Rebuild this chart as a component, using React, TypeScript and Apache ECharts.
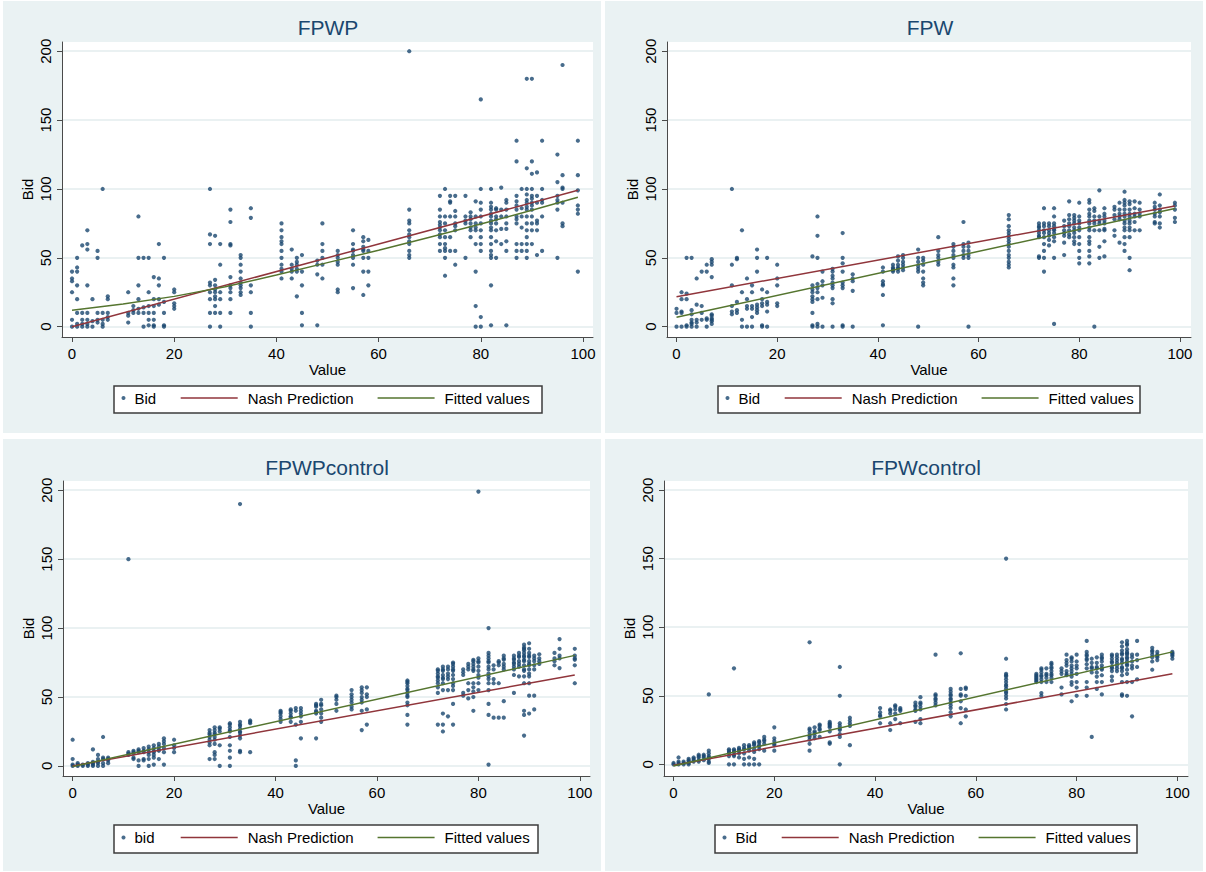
import React, { useEffect, useRef } from "react";
import * as echarts from "echarts";

const FONT = "'Liberation Sans', Arial, Helvetica, sans-serif";
const NAVY = "#1A476F";
const MAROON = "#90353B";
const FOREST = "#55752F";
const PANEL_BG = "#EAF2F3";

const xTicks = [0, 20, 40, 60, 80, 100];
const yTicks = [0, 50, 100, 150, 200];
const panelTitles = ["FPWP", "FPW", "FPWPcontrol", "FPWcontrol"];
const scatterNames = ["Bid", "Bid", "bid", "Bid"];
const nashName = "Nash Prediction";
const fitName = "Fitted values";
const xTitle = "Value";
const yTitle = "Bid";

// Bid values per Value column
const fpwpBids: [number, number[]][] = [
  [0, [40, 35, 33, 25, 5, 0]], [1, [50, 43, 40, 30, 20, 10, 2, 0]], [2, [59, 10, 5, 2, 0]],
  [3, [70, 60, 56, 30, 10, 5, 2, 0]], [4, [20, 4, 0]], [5, [55, 50, 10, 5, 3]], [6, [100, 10, 5, 2, 0]],
  [7, [22, 20, 10, 7, 5]], [11, [25, 10, 8, 3]], [12, [15, 12, 10]], [13, [80, 50, 30, 20, 13, 10]],
  [14, [50, 14, 10, 0]], [15, [50, 25, 15, 10, 5, 1]], [16, [36, 20, 15, 10, 5, 1, 0]],
  [17, [60, 35, 30, 20, 16]], [18, [50, 18, 10, 1, 0]], [20, [27, 25, 17, 15, 13]],
  [27, [100, 67, 60, 32, 30, 25, 20, 10, 0]], [28, [66, 34, 30, 27, 25, 22, 20, 15, 10]],
  [29, [60, 45, 25, 20, 10, 0]], [31, [85, 76, 60, 59, 36, 30, 28, 25, 20, 10]],
  [33, [52, 50, 45, 40, 35, 32, 30, 28, 25, 23]], [35, [86, 79, 30, 25, 10, 0]],
  [41, [75, 70, 65, 62, 60, 55, 50, 45, 42, 40, 35]], [43, [56, 45, 42, 40, 35]],
  [44, [50, 47, 45, 42, 40, 22]], [45, [52, 40, 30, 10, 1]], [48, [48, 45, 38, 1]],
  [49, [75, 60, 55, 50, 45, 35]], [52, [55, 52, 50, 47, 45, 27, 25]],
  [55, [70, 60, 56, 55, 52, 50, 45, 28]], [57, [65, 62, 58, 56, 55, 50, 40, 23]],
  [58, [63, 55, 50, 40, 30]], [66, [200, 85, 77, 75, 70, 67, 65, 62, 60, 55, 52, 50]],
  [72, [95, 85, 80, 76, 74, 72, 70, 67, 65, 60, 55]], [73, [100, 80, 75, 70, 65, 60, 57, 55, 50, 37]],
  [74, [95, 91, 90, 80, 65, 55]], [75, [95, 84, 80, 75, 73, 70, 55, 45]], [77, [95, 80, 77, 75, 50]],
  [78, [83, 80, 78, 75, 72, 70, 65]], [79, [91, 80, 75, 72, 70, 60, 40, 15, 0]],
  [80, [165, 100, 90, 85, 80, 75, 70, 65, 60, 55, 7, 0]],
  [82, [100, 90, 87, 85, 82, 80, 77, 75, 72, 70, 65, 60, 55, 52, 50, 30, 1]],
  [83, [86, 85, 80, 78, 75, 70, 62, 50]], [84, [101, 85, 80, 71, 60]],
  [85, [92, 90, 85, 80, 75, 71, 62, 55, 1]], [87, [135, 120, 95, 91, 88, 85, 80, 78, 75, 60, 55, 50]],
  [88, [100, 86, 80, 72, 60, 55]], [89, [180, 115, 100, 96, 92, 90, 87, 85, 80, 75, 70, 65, 60, 55, 50]],
  [90, [180, 120, 111, 100, 95, 93, 90, 88, 85, 80, 75, 70, 60]], [91, [112, 95, 90, 77, 75, 70, 52]],
  [92, [135, 100, 92, 90, 80, 55]], [95, [125, 105, 95, 92, 90, 85, 50]],
  [96, [190, 110, 101, 100, 90, 75, 73]], [99, [135, 110, 99, 88, 85, 82, 40]],
];

const fpwBids: [number, number[]][] = [
  [0, [13, 10, 0]], [1, [25, 20, 11, 10, 0]], [2, [50, 24, 20, 1, 0]], [3, [50, 12, 9, 5, 3, 2, 0]],
  [4, [35, 16, 5, 3, 0]], [5, [40, 15, 10, 5]], [6, [45, 40, 6, 5, 0]], [7, [49, 47, 45, 36, 9, 8, 6, 5, 4, 2]],
  [11, [100, 45, 30, 15, 11, 9]], [12, [50, 49, 18, 12, 10]], [13, [70, 25, 5, 0]], [14, [35, 20, 15, 13, 0]],
  [15, [30, 25, 15, 13, 7, 0]], [16, [56, 50, 40, 16, 14, 12, 10]], [17, [27, 20, 17, 15, 1, 0]],
  [18, [50, 25, 18, 16, 11, 0]], [20, [45, 35, 30, 17, 15]], [27, [51, 30, 27, 25, 22, 20, 18, 10, 1, 0]],
  [28, [80, 66, 50, 31, 28, 25, 20, 2, 0]], [29, [40, 33, 30, 21, 0]],
  [31, [42, 40, 37, 35, 32, 30, 28, 20, 17, 0]], [33, [68, 50, 46, 40, 32, 30, 28, 1, 0]],
  [35, [38, 35, 33, 26, 0]], [41, [43, 40, 33, 31, 30, 23, 1]], [43, [45, 43, 42, 41, 40]],
  [44, [51, 48, 45, 43, 42, 40]], [45, [52, 50, 47, 45, 43, 41]], [48, [56, 50, 47, 44, 42, 40, 0]],
  [49, [50, 48, 45, 40, 35, 32, 30]], [52, [65, 55, 52, 50, 47, 45]],
  [55, [60, 58, 55, 52, 50, 45, 43, 35, 30]], [57, [76, 60, 58, 55, 52, 50]], [58, [61, 58, 55, 52, 50, 0]],
  [66, [81, 78, 73, 70, 68, 66, 64, 62, 60, 58, 55, 52, 50, 47, 45, 43]],
  [72, [75, 73, 72, 70, 68, 66, 65, 51, 50]], [73, [86, 75, 73, 70, 68, 65, 60, 55, 50, 40]],
  [74, [75, 73, 70, 68, 66, 63, 59]], [75, [86, 80, 75, 73, 71, 70, 68, 65, 62, 50, 2]],
  [77, [77, 73, 70, 68, 66, 61, 52]], [78, [91, 81, 78, 75, 73, 70, 67, 65]],
  [79, [81, 79, 77, 75, 72, 70, 68, 65, 62, 60]], [80, [90, 80, 77, 75, 72, 70, 65, 60, 55, 50, 46]],
  [82, [92, 90, 85, 82, 80, 77, 75, 72, 70, 65, 62, 60, 55, 51, 46]], [83, [86, 84, 80, 77, 75, 70, 0]],
  [84, [99, 80, 77, 75, 70, 58, 50]], [85, [86, 82, 80, 77, 75, 71, 70, 62, 51]],
  [87, [87, 85, 81, 78, 70, 66]], [88, [90, 85, 82, 80, 78, 61]],
  [89, [98, 92, 90, 88, 85, 82, 80, 77, 75, 72, 70, 65, 60, 55]],
  [90, [91, 89, 85, 82, 80, 77, 75, 72, 70, 65, 50, 41]], [91, [91, 86, 82, 80, 76, 70]],
  [92, [90, 85, 82, 80, 70]], [95, [90, 87, 85, 82, 80, 76, 75]], [96, [96, 88, 85, 83, 80, 75, 72]],
  [99, [90, 88, 85, 79, 76]],
];

const fpwpControlBids: [number, number[]][] = [
  [0, [19, 5, 1, 0]], [1, [2, 1, 0]], [2, [1, 0]], [3, [2, 1, 0]], [4, [12, 3, 2, 1, 0]], [5, [8, 5, 3, 2, 0]],
  [6, [21, 6, 5, 2, 0]], [7, [6, 5, 4, 2]], [11, [150, 10, 9, 8]], [12, [11, 10, 9, 6, 5]],
  [13, [12, 11, 10, 4, 0]], [14, [13, 11, 10, 5, 4]], [15, [14, 12, 10, 8, 5, 0]],
  [16, [15, 13, 11, 10, 8, 6, 1]], [17, [16, 14, 12, 11, 5]], [18, [20, 18, 16, 13, 10, 1]],
  [20, [19, 15, 13, 10]], [27, [26, 24, 23, 21, 19, 17, 15, 5]], [28, [28, 26, 24, 23, 21, 19, 16, 10, 8, 5]],
  [29, [28, 27, 25, 15, 0]], [31, [31, 30, 28, 26, 25, 21, 15, 11, 6, 0]],
  [33, [190, 32, 30, 29, 27, 25, 24, 22, 20, 11, 10]], [35, [33, 32, 31, 10]],
  [41, [40, 39, 38, 36, 34, 32]], [43, [41, 40, 38, 36, 35, 32]], [44, [42, 40, 30, 4, 0]],
  [45, [42, 40, 38, 36, 32, 20]], [48, [45, 44, 43, 40, 39, 38, 20]], [49, [48, 45, 44, 41, 38, 35, 32]],
  [52, [51, 50, 48, 45, 40]], [55, [55, 52, 50, 48, 46, 43, 41]], [57, [57, 55, 53, 50, 48, 46, 40, 26]],
  [58, [57, 52, 50, 41, 30]], [66, [62, 61, 60, 58, 56, 55, 53, 51, 50, 46, 44, 37, 30]],
  [72, [70, 69, 67, 65, 64, 62, 60, 57, 53, 30]], [73, [72, 70, 69, 66, 64, 63, 60, 55, 38, 30, 25]],
  [74, [72, 70, 67, 65, 63, 55, 36]], [75, [75, 74, 72, 70, 69, 66, 63, 60, 58, 55, 45, 30]],
  [77, [70, 68, 66, 53, 51]], [78, [74, 72, 70, 60, 55, 49]], [79, [77, 76, 74, 72, 70, 69, 60, 57, 54, 50, 40]],
  [80, [199, 78, 76, 75, 72, 69, 66, 64, 60, 55]],
  [82, [100, 82, 80, 78, 76, 75, 72, 70, 67, 65, 63, 60, 55, 45, 37, 1]], [83, [73, 70, 63, 60, 35]],
  [84, [76, 75, 73, 60, 35]], [85, [80, 78, 77, 74, 72, 70, 47, 35]], [87, [80, 78, 77, 75, 74, 72, 70, 66, 53]],
  [88, [82, 80, 79, 76, 74, 72, 65]], [89, [88, 86, 85, 84, 82, 80, 79, 77, 76, 73, 70, 69, 65, 60, 40, 37, 22]],
  [90, [89, 85, 82, 80, 79, 76, 74, 73, 70, 67, 65, 60, 51, 38]], [91, [80, 78, 76, 73, 70, 51, 41]],
  [92, [81, 78, 76, 74]], [95, [82, 78, 76, 73]], [96, [92, 85, 80, 78, 71]], [99, [85, 80, 78, 77, 73, 60]],
];

const fpwControlBids: [number, number[]][] = [
  [0, [1, 0]], [1, [5, 2, 1, 0]], [2, [2, 1, 0]], [3, [4, 3, 2, 1, 0]], [4, [5, 4, 3, 2]], [5, [7, 6, 5, 3, 2]],
  [6, [7, 6, 5, 3]], [7, [51, 10, 8, 6, 5, 4, 2, 1]], [11, [11, 10, 9, 8, 6, 0]], [12, [70, 11, 10, 9, 7, 6, 0]],
  [13, [12, 11, 10, 8, 5]], [14, [14, 12, 11, 8, 4, 0]], [15, [14, 13, 12, 10, 5, 0]],
  [16, [16, 15, 14, 11, 9, 4, 0]], [17, [17, 16, 14, 13, 11, 0]], [18, [20, 18, 17, 15, 10]],
  [20, [27, 19, 17, 15, 14, 10]], [27, [89, 26, 25, 23, 21, 20, 18, 15, 10]], [28, [27, 24, 23, 21, 19]],
  [29, [29, 28, 26, 25, 20]], [31, [31, 30, 29, 28, 27, 24, 16, 15]], [33, [71, 50, 30, 28, 26, 25, 22, 20, 0]],
  [35, [34, 32, 30, 28, 14]], [41, [41, 38, 36, 35, 30]], [43, [40, 39, 37, 30, 25]], [44, [43, 42, 40, 37, 33]],
  [45, [41, 40, 39, 30]], [48, [45, 43, 42, 40, 39, 31]], [49, [49, 45, 44, 42, 40, 33, 30]],
  [52, [80, 51, 50, 48, 47, 45, 43]], [55, [55, 53, 51, 50, 48, 47, 45, 43, 41, 38, 35]],
  [57, [81, 55, 51, 50, 46, 41, 30]], [58, [56, 55, 50, 40, 35]],
  [66, [150, 77, 66, 65, 64, 62, 60, 58, 57, 55, 53, 52, 50, 48, 44, 40]], [72, [66, 65, 64, 63, 62, 61, 60]],
  [73, [70, 69, 67, 65, 64, 62, 60, 52, 50]], [74, [70, 66, 65, 63, 60]], [75, [74, 73, 71, 70, 68, 66, 65, 63, 60]],
  [77, [70, 68, 66, 56, 51]], [78, [80, 76, 74, 72, 68, 66, 65]], [79, [78, 77, 75, 72, 70, 68, 66, 64, 60, 58, 46]],
  [80, [80, 75, 72, 70, 66, 60, 56, 50]], [82, [90, 82, 80, 79, 77, 76, 73, 70, 60, 56, 50]],
  [83, [77, 74, 71, 70, 67, 20]], [84, [78, 74, 71, 70, 67, 64, 60, 55]], [85, [80, 78, 77, 75, 72, 70, 69, 65, 60, 51]],
  [87, [80, 79, 77, 75, 74, 71, 70, 68, 64, 61]], [88, [80, 78, 76, 74, 72, 70, 68]],
  [89, [89, 86, 83, 81, 80, 77, 76, 74, 71, 70, 68, 65, 60, 51, 50]],
  [90, [90, 88, 87, 84, 82, 81, 80, 78, 77, 75, 73, 72, 69, 66, 60, 50]], [91, [80, 78, 75, 72, 70, 60, 35]],
  [92, [90, 80, 76, 71, 62]], [95, [85, 83, 82, 80, 78, 75, 69]], [96, [82, 80, 79, 78, 76]], [99, [82, 81, 80, 79, 77]],
];

// Nash prediction and fitted-value lines
const nashFPWP = [[0, 0], [99, 99]];
const fitFPWP = [[0, 12], [10, 16.5], [20, 22], [30, 29], [40, 37.5], [50, 46.5], [60, 55.5], [70, 65], [80, 74.5], [90, 84.5], [99, 94]];
const nashFPW = [[0, 21.7], [99, 87.6]];
const fitFPW = [[0, 6.8], [99, 85.8]];
const nashFPWPcontrol = [[0, 0], [99, 66]];
const fitFPWPcontrol = [[0, -0.5], [99, 80.2]];
const nashFPWcontrol = [[0, -0.7], [99, 66]];
const fitFPWcontrol = [[0, -1.2], [99, 82]];

const bidSets = [fpwpBids, fpwBids, fpwpControlBids, fpwControlBids];
const nashSets = [nashFPWP, nashFPW, nashFPWPcontrol, nashFPWcontrol];
const fitSets = [fitFPWP, fitFPW, fitFPWPcontrol, fitFPWcontrol];

// layout of the four panels (pixels)
const layout = [
  { bg: [3, 1, 598, 432], grid: [62, 42, 531, 295], xr: [-1.96, 101.96], yr: [-7.5, 206.7], tx: 328, ty: 17, lg: [114, 386, 428, 27] },
  { bg: [605, 1, 598, 432], grid: [667, 42, 524, 295], xr: [-1.89, 102.2], yr: [-7.5, 206.7], tx: 930, ty: 17, lg: [718, 386, 422, 27] },
  { bg: [3, 439, 598, 432], grid: [63, 481, 527, 295], xr: [-1.9, 102], yr: [-7.3, 206.7], tx: 327, ty: 457, lg: [114, 825, 424, 28] },
  { bg: [605, 439, 598, 432], grid: [664, 481, 524, 295], xr: [-1.89, 102.1], yr: [-8.5, 206.6], tx: 926, ty: 457, lg: [715, 825, 422, 28] },
];

function expand(cols: [number, number[]][]) {
  const out: number[][] = [];
  cols.forEach(([x, ys]) => ys.forEach((y) => out.push([x, y])));
  return out;
}

export default function App() {
  const ref = useRef<HTMLDivElement>(null);
  useEffect(() => {
    if (!ref.current) return;
    const chart = echarts.init(ref.current, undefined, { renderer: "svg" });
    const textStyle = { fontFamily: FONT, fontSize: 15, color: "#000" };
    const axisLineStyle = { color: "#4a4a4a", width: 1 };

    const graphic: any[] = [];
    layout.forEach((p) => {
      graphic.push({ type: "rect", z: -100, silent: true, shape: { x: p.bg[0], y: p.bg[1], width: p.bg[2], height: p.bg[3] }, style: { fill: PANEL_BG } });
      graphic.push({ type: "rect", z: 1, silent: true, shape: { x: p.lg[0], y: p.lg[1], width: p.lg[2], height: p.lg[3] }, style: { fill: "#fff", stroke: "#3c3c3c", lineWidth: 1.5 } });
    });

    const series: any[] = [];
    layout.forEach((p, i) => {
      series.push({
        type: "scatter", name: scatterNames[i], xAxisIndex: i, yAxisIndex: i,
        data: expand(bidSets[i]), symbolSize: 4.2, itemStyle: { color: NAVY }, z: 3,
      });
      series.push({
        type: "line", name: nashName, xAxisIndex: i, yAxisIndex: i, data: nashSets[i],
        symbol: "none", showSymbol: false, lineStyle: { color: MAROON, width: 1.5 }, itemStyle: { color: MAROON }, z: 4,
      });
      series.push({
        type: "line", name: fitName, xAxisIndex: i, yAxisIndex: i, data: fitSets[i],
        symbol: "none", showSymbol: false, lineStyle: { color: FOREST, width: 1.5 }, itemStyle: { color: FOREST }, z: 5,
      });
    });

    const legends: any[] = [];
    layout.forEach((p, i) => {
      const cy = p.lg[1] + p.lg[3] / 2;
      legends.push({
        data: [{ name: scatterNames[i], icon: "circle" }], left: p.lg[0] + 7.5, top: cy - 9, itemWidth: 4, itemHeight: 4,
        padding: 0, selectedMode: false, textStyle: { ...textStyle, padding: [0, 0, 0, 4] }, z: 4,
      });
      legends.push({
        data: [
          { name: nashName, icon: "rect", itemStyle: { color: MAROON } },
          { name: fitName, icon: "rect", itemStyle: { color: FOREST } },
        ],
        left: p.lg[0] + 66.7, top: cy - 9, itemWidth: 57, itemHeight: 1.5, itemGap: 24, symbolKeepAspect: false,
        padding: 0, selectedMode: false, textStyle: { ...textStyle, padding: [0, 0, 0, 5] }, z: 4,
      });
    });

    chart.setOption({
      animation: false,
      backgroundColor: "#fff",
      textStyle: { fontFamily: FONT },
      graphic,
      title: layout.map((p, i) => ({
        text: panelTitles[i], left: p.tx, top: p.ty, textAlign: "center", padding: 0,
        textStyle: { fontFamily: FONT, fontSize: 21, fontWeight: "normal", color: NAVY },
      })),
      legend: legends,
      grid: layout.map((p) => ({
        left: p.grid[0], top: p.grid[1], width: p.grid[2], height: p.grid[3],
        show: true, backgroundColor: "#fff", borderWidth: 0, containLabel: false,
      })),
      xAxis: layout.map((p, i) => ({
        gridIndex: i, type: "value", min: p.xr[0], max: p.xr[1],
        axisLine: { show: true, onZero: false, lineStyle: axisLineStyle },
        axisTick: { show: true, length: 5, customValues: xTicks, lineStyle: axisLineStyle },
        axisLabel: { show: true, customValues: xTicks, margin: 9, ...textStyle },
        splitLine: { show: false },
        name: xTitle, nameLocation: "middle", nameGap: 25, nameTextStyle: { ...textStyle },
      })),
      yAxis: layout.map((p, i) => ({
        gridIndex: i, type: "value", min: p.yr[0], max: p.yr[1],
        axisLine: { show: true, onZero: false, lineStyle: axisLineStyle },
        axisTick: { show: true, length: 5, customValues: yTicks, lineStyle: axisLineStyle },
        axisLabel: { show: true, customValues: yTicks, rotate: 90, margin: 9, ...textStyle },
        splitLine: { show: true, lineStyle: { color: "#E3EDEE", width: 1.5 } },
        name: yTitle, nameLocation: "middle", nameGap: 27, nameTextStyle: { ...textStyle },
      })),
      series,
    });
    return () => chart.dispose();
  }, []);
  return (
    <div
      ref={ref}
      style={{ position: "fixed", left: 0, top: 0, width: 1206, height: 872, background: "#fff" }}
    />
  );
}
